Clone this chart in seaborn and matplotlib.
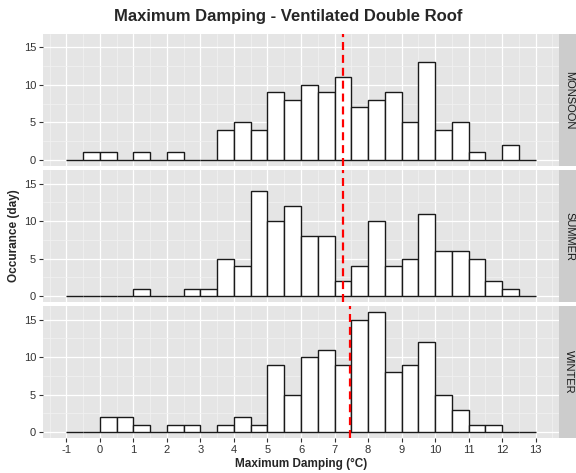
import numpy as np
import pandas as pd
import matplotlib
matplotlib.use('Agg')
import matplotlib.pyplot as plt
import seaborn as sns

# datos: conteo de dias por bin de 0.5 °C (desde -1 hasta 13)
bin_inicio = [-1.0, -0.5, 0.0, 0.5, 1.0, 1.5, 2.0, 2.5, 3.0, 3.5, 4.0, 4.5, 5.0, 5.5,
              6.0, 6.5, 7.0, 7.5, 8.0, 8.5, 9.0, 9.5, 10.0, 10.5, 11.0, 11.5, 12.0, 12.5]
conteo_monsoon = [0, 1, 1, 0, 1, 0, 1, 0, 0, 4, 5, 4, 9, 8, 10, 9, 11, 7, 8, 9, 5, 13, 4, 5, 1, 0, 2, 0]
conteo_summer = [0, 0, 0, 0, 1, 0, 0, 1, 1, 5, 4, 14, 10, 12, 8, 8, 2, 4, 10, 4, 5, 11, 6, 6, 5, 2, 1, 0]
conteo_winter = [0, 0, 2, 2, 1, 0, 1, 1, 0, 1, 2, 1, 9, 5, 10, 11, 9, 15, 16, 8, 9, 12, 5, 3, 1, 1, 0, 0]

estaciones = ['MONSOON', 'SUMMER', 'WINTER']
promedios = [7.25, 7.25, 7.45]  # linea roja punteada
ancho_bin = 0.5

df = pd.DataFrame({
    'inicio': bin_inicio * 3,
    'conteo': conteo_monsoon + conteo_summer + conteo_winter,
    'estacion': np.repeat(estaciones, len(bin_inicio)),
})
df['centro'] = df['inicio'] + ancho_bin / 2
bordes = list(bin_inicio) + [bin_inicio[-1] + ancho_bin]

sns.set_style('darkgrid', {'axes.facecolor': '#E5E5E5', 'grid.color': 'white'})
plt.rcParams['font.family'] = ['Liberation Sans', 'DejaVu Sans']
plt.rcParams['axes.unicode_minus'] = False

W, H = 576, 473
fig = plt.figure(figsize=(W / 100, H / 100), dpi=100)

izq, der = 43, 559
tops = [34, 170, 306]
alto = 132

for i, est in enumerate(estaciones):
    top = tops[i]
    ax = fig.add_axes([izq / W, 1 - (top + alto) / H, (der - izq) / W, alto / H])
    sub = df[df['estacion'] == est]
    sns.histplot(data=sub, x='centro', weights='conteo', bins=bordes, ax=ax,
                 color='white', edgecolor='#1a1a1a', linewidth=1.0, alpha=1)
    ax.axvline(promedios[i], color='#FF0000', linestyle='--', linewidth=1.6, dashes=(3.6, 2.2))

    ax.set_xlim(-1.7, 13.7)
    ax.set_ylim(-0.8, 16.8)
    ax.set_xticks(range(-1, 14))
    ax.set_yticks([0, 5, 10, 15])
    ax.set_xticks(np.arange(-1.5, 14, 1.0), minor=True)
    ax.set_yticks([2.5, 7.5, 12.5], minor=True)
    ax.grid(which='major', color='white', linewidth=0.9)
    ax.grid(which='minor', color='#F2F2F2', linewidth=0.5)
    ax.set_axisbelow(True)
    for s in ax.spines.values():
        s.set_visible(False)
    ax.set_xlabel('')
    ax.set_ylabel('')
    ax.tick_params(axis='y', which='major', length=3, color='#333333', labelsize=8,
                   labelcolor='#333333', pad=2, left=True)
    ax.tick_params(which='minor', length=0)
    if i < 2:
        ax.tick_params(axis='x', which='major', length=0, labelbottom=False)
    else:
        ax.tick_params(axis='x', which='major', length=3, color='#333333', labelsize=8,
                       labelcolor='#333333', pad=2, bottom=True)

    # tira gris de la faceta
    strip = fig.add_axes([der / W, 1 - (top + alto) / H, (W - der) / W, alto / H])
    strip.set_facecolor('#CCCCCC')
    strip.set_xticks([])
    strip.set_yticks([])
    strip.grid(False)
    for s in strip.spines.values():
        s.set_visible(False)
    strip.text(0.6, 0.5, est, rotation=-90, ha='center', va='center',
               fontsize=8, color='#1a1a1a', transform=strip.transAxes)

fig.text(0.5, 1 - 17 / H, 'Maximum Damping - Ventilated Double Roof',
         ha='center', va='center', fontsize=12, fontweight='bold')
fig.text(14 / W, 1 - 236 / H, 'Occurance (day)', rotation=90,
         ha='center', va='center', fontsize=8.5, fontweight='bold')
fig.text((izq + der) / 2 / W, 1 - 464 / H, 'Maximum Damping (°C)',
         ha='center', va='center', fontsize=8.5, fontweight='bold')

fig.savefig('out.png', dpi=100)
